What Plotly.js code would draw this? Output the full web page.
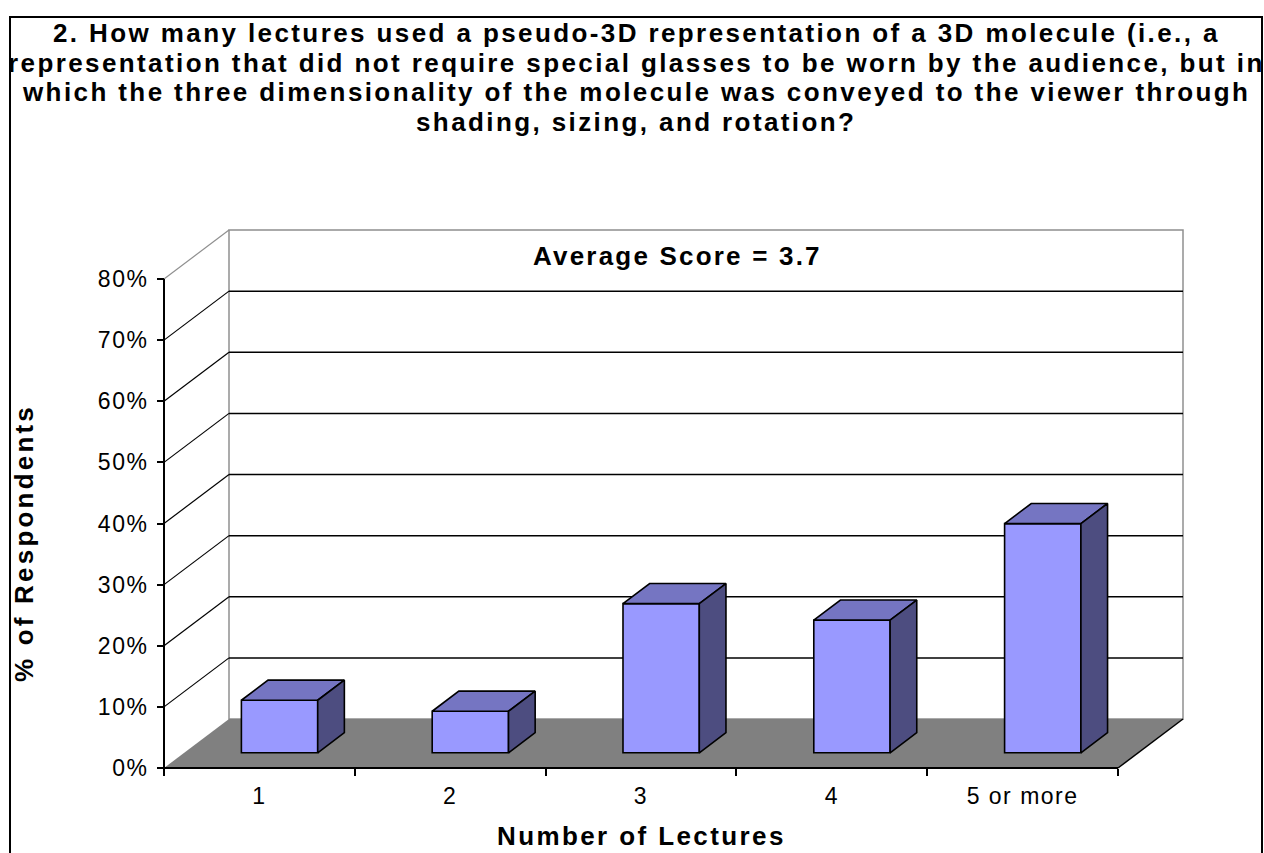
<!DOCTYPE html>
<html>
<head>
<meta charset="utf-8">
<script src="https://cdn.plot.ly/plotly-3.0.1.min.js"></script>
<style>
  html, body { margin: 0; padding: 0; background: #ffffff; }
  #chart { width: 1264px; height: 853px; }
</style>
</head>
<body>
<div id="chart"></div>
<script>
// ---------------- data ----------------
const categories = ['1', '2', '3', '4', '5 or more'];
const percentValues = [8.6, 6.8, 24.4, 21.7, 37.5];
const yTickValues = [0, 10, 20, 30, 40, 50, 60, 70, 80];
const yTickLabels = ['0%', '10%', '20%', '30%', '40%', '50%', '60%', '70%', '80%'];
const titleLines = [
  '2. How many lectures used a pseudo-3D representation of a 3D molecule (i.e., a',
  'representation that did not require special glasses to be worn by the audience, but in',
  'which the three dimensionality of the molecule was conveyed to the viewer through',
  'shading, sizing, and rotation?'
];
const averageLabel = 'Average Score = 3.7';
const xAxisTitle = 'Number of Lectures';
const yAxisTitle = '% of Respondents';

// ---------------- geometry / style ----------------
const W = 1264, H = 853;
const FONT = 'Liberation Sans, Arial, sans-serif';
const PX_X = 190.8;          // pixels per category
const PX_Y = 6.1125;         // pixels per percent point
const ORIGIN_X = 164, ORIGIN_Y = 768;
const DEPTH_DX = 65 / PX_X;  // 3-D depth offset in axis units
const DEPTH_DY = 49 / PX_Y;
const F1 = 0.31, F2 = 0.72;  // bar front/back depth fraction
const BAR_W = 0.4;
const YMAX = yTickValues[yTickValues.length - 1];
const NCAT = categories.length;

const xr = [-0.06, NCAT + DEPTH_DX + 0.04];
const yr = [-2, YMAX + DEPTH_DY + 0.4];
const xDomain = [(ORIGIN_X + xr[0] * PX_X) / W, (ORIGIN_X + xr[1] * PX_X) / W];
const yDomain = [1 - (ORIGIN_Y - yr[0] * PX_Y) / H, 1 - (ORIGIN_Y - yr[1] * PX_Y) / H];

function sp(text, s) { return '<span style="letter-spacing:' + s + 'px">' + text + '</span>'; }

const centers = categories.map((c, i) => i + 0.5);

// ---------------- bar faces ----------------
const bdx = (F2 - F1) * DEPTH_DX, bdy = (F2 - F1) * DEPTH_DY;
const baseY = F1 * DEPTH_DY;
const frontX = centers.map(c => c + F1 * DEPTH_DX);

const frontTrace = {
  type: 'bar', x: frontX, y: percentValues, base: baseY, width: BAR_W,
  marker: { color: '#9999FF', line: { color: '#000000', width: 1.6 } },
  hoverinfo: 'skip', showlegend: false
};

const topX = [], topY = [], sideX = [], sideY = [];
percentValues.forEach((v, i) => {
  const xl = frontX[i] - BAR_W / 2, xrr = frontX[i] + BAR_W / 2;
  const top = baseY + v;
  topX.push(xl, xrr, xrr + bdx, xl + bdx, xl, null);
  topY.push(top, top, top + bdy, top + bdy, top, null);
  sideX.push(xrr, xrr, xrr + bdx, xrr + bdx, xrr, null);
  sideY.push(baseY, top, top + bdy, baseY + bdy, baseY, null);
});
const topTrace = {
  type: 'scatter', mode: 'lines', x: topX, y: topY, fill: 'toself',
  fillcolor: '#7575C2', line: { color: '#000000', width: 1.6 },
  hoverinfo: 'skip', showlegend: false
};
const sideTrace = {
  type: 'scatter', mode: 'lines', x: sideX, y: sideY, fill: 'toself',
  fillcolor: '#4D4D80', line: { color: '#000000', width: 1.6 },
  hoverinfo: 'skip', showlegend: false
};

// ---------------- walls, floor, gridlines ----------------
const shapes = [];
const WALL_GREY = '#8f8f8f';
// left side wall
shapes.push({ type: 'path', layer: 'below', xref: 'x', yref: 'y',
  path: `M0,0 L${DEPTH_DX},${DEPTH_DY} L${DEPTH_DX},${YMAX + DEPTH_DY} L0,${YMAX} Z`,
  fillcolor: '#ffffff', line: { width: 0 } });
// back wall
shapes.push({ type: 'rect', layer: 'below', xref: 'x', yref: 'y',
  x0: DEPTH_DX, y0: DEPTH_DY, x1: NCAT + DEPTH_DX, y1: YMAX + DEPTH_DY,
  fillcolor: '#ffffff', line: { color: WALL_GREY, width: 1.5 } });
// gridlines (back wall + side wall diagonals)
yTickValues.forEach(v => {
  if (v === 0) return;
  const col = v === YMAX ? WALL_GREY : '#000000';
  if (v !== YMAX) {
    shapes.push({ type: 'line', layer: 'below', xref: 'x', yref: 'y',
      x0: DEPTH_DX, y0: v + DEPTH_DY, x1: NCAT + DEPTH_DX, y1: v + DEPTH_DY,
      line: { color: '#000000', width: 1.5 } });
  }
  shapes.push({ type: 'line', layer: 'below', xref: 'x', yref: 'y',
    x0: 0, y0: v, x1: DEPTH_DX, y1: v + DEPTH_DY,
    line: { color: col, width: 1.2 } });
});
// floor
shapes.push({ type: 'path', layer: 'below', xref: 'x', yref: 'y',
  path: `M0,0 L${NCAT},0 L${NCAT + DEPTH_DX},${DEPTH_DY} L${DEPTH_DX},${DEPTH_DY} Z`,
  fillcolor: '#808080', line: { width: 0 } });
shapes.push({ type: 'line', layer: 'below', xref: 'x', yref: 'y',
  x0: NCAT, y0: 0, x1: NCAT + DEPTH_DX, y1: DEPTH_DY,
  line: { color: '#000000', width: 1.5 } });
// front axis lines
shapes.push({ type: 'line', layer: 'above', xref: 'x', yref: 'y',
  x0: 0, y0: 0, x1: 0, y1: YMAX, line: { color: '#000000', width: 2 } });
shapes.push({ type: 'line', layer: 'above', xref: 'x', yref: 'y',
  x0: 0, y0: 0, x1: NCAT, y1: 0, line: { color: '#000000', width: 2 } });
// outer chart border
shapes.push({ type: 'rect', layer: 'above', xref: 'paper', yref: 'paper',
  x0: 10 / W, y0: -0.05, x1: 1262 / W, y1: 1 - 17 / H,
  line: { color: '#000000', width: 2 }, fillcolor: 'rgba(0,0,0,0)' });

// ---------------- text ----------------
const annotations = [];
const titleY = [33, 63, 92, 122];
titleLines.forEach((t, i) => {
  annotations.push({ xref: 'paper', yref: 'paper', x: 636 / W, y: 1 - titleY[i] / H,
    xanchor: 'center', yanchor: 'middle', showarrow: false,
    text: '<b>' + sp(t, 2.4) + '</b>',
    font: { family: FONT, size: 26, color: '#000000' } });
});
annotations.push({ xref: 'paper', yref: 'paper', x: 677 / W, y: 1 - 256 / H,
  xanchor: 'center', yanchor: 'middle', showarrow: false,
  text: '<b>' + sp(averageLabel, 2.2) + '</b>',
  font: { family: FONT, size: 26, color: '#000000' } });
annotations.push({ xref: 'paper', yref: 'paper', x: 641 / W, y: 1 - 836 / H,
  xanchor: 'center', yanchor: 'middle', showarrow: false,
  text: '<b>' + sp(xAxisTitle, 2.4) + '</b>',
  font: { family: FONT, size: 26, color: '#000000' } });
annotations.push({ xref: 'paper', yref: 'paper', x: 24 / W, y: 1 - 543 / H,
  xanchor: 'center', yanchor: 'middle', showarrow: false, textangle: -90,
  text: '<b>' + sp(yAxisTitle, 3.2) + '</b>',
  font: { family: FONT, size: 26, color: '#000000' } });

const layout = {
  width: W, height: H,
  margin: { l: 0, r: 0, t: 0, b: 0, pad: 0 },
  paper_bgcolor: '#ffffff', plot_bgcolor: 'rgba(0,0,0,0)',
  showlegend: false, bargap: 0,
  xaxis: {
    domain: xDomain, range: xr, anchor: 'free', position: 1 - ORIGIN_Y / H,
    tickmode: 'array', tickvals: centers, ticktext: categories.map(c => sp(c, 1.5)),
    ticks: '', showgrid: false, zeroline: false, showline: false,
    ticklabelstandoff: 12, automargin: false, fixedrange: true,
    tickfont: { family: FONT, size: 23, color: '#000000' },
    minor: { tickmode: 'array', tickvals: [0, 1, 2, 3, 4, 5], ticks: 'outside',
      ticklen: 7, tickwidth: 2, tickcolor: '#000000', showgrid: false }
  },
  yaxis: {
    domain: yDomain, range: yr, anchor: 'free', position: ORIGIN_X / W,
    tickmode: 'array', tickvals: yTickValues, ticktext: yTickLabels.map(t => sp(t, 1.5)),
    ticks: 'outside', ticklen: 7, tickwidth: 2, tickcolor: '#000000',
    showgrid: false, zeroline: false, showline: false,
    ticklabelstandoff: 4, automargin: false, fixedrange: true,
    tickfont: { family: FONT, size: 23, color: '#000000' }
  },
  shapes: shapes,
  annotations: annotations
};

Plotly.newPlot('chart', [frontTrace, topTrace, sideTrace], layout,
  { displayModeBar: false, staticPlot: true });
</script>
</body>
</html>
